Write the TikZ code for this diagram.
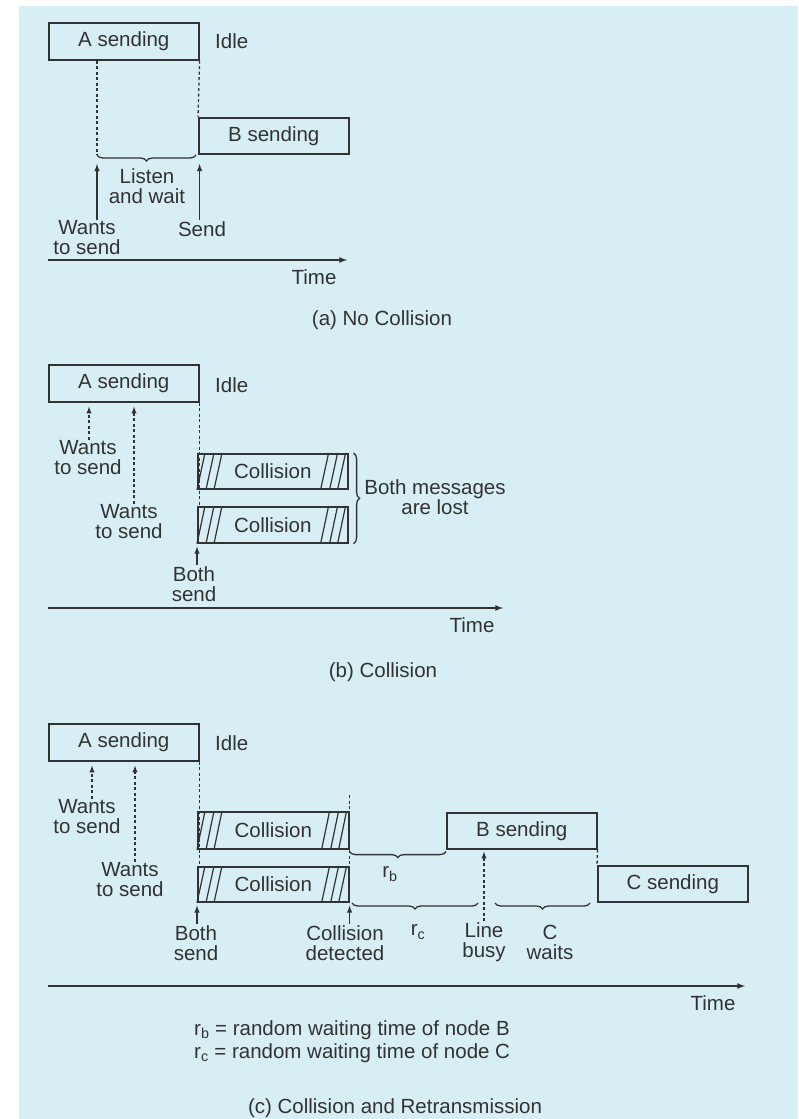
\documentclass[tikz,border=0pt]{standalone}
\usepackage{fontspec}
\setmainfont{Liberation Sans}
\usetikzlibrary{calc,decorations.pathreplacing}
\definecolor{panel}{RGB}{216,238,245}
\definecolor{ink}{RGB}{50,50,50}
\begin{document}
\begin{tikzpicture}[x=1pt,y=-1pt,
  every node/.style={font=\fontsize{20.5}{20}\selectfont,text=ink,inner sep=1pt,align=center},
  box/.style={draw=ink,line width=1.6pt,anchor=north west,minimum width=150pt,minimum height=37pt},
  dline/.style={draw=ink,line width=1.3pt,dash pattern=on 3pt off 2.5pt},
  arr/.style={draw=ink,line width=1.4pt,-latex},
  darr/.style={dline,-latex},
  brace/.style={draw=ink,line width=1.3pt,decorate,decoration={brace,amplitude=6pt}},
  hatch/.style={draw=ink,line width=1.2pt},
  axis/.style={draw=ink,line width=1.6pt,-latex}]
  \useasboundingbox (0,0) rectangle (798,1119);
  \fill[panel] (19,6) rectangle (798,1119);

  \node[box] (asend1) at (48,22) {A sending};
  \node[anchor=west] (idle1) at (214,41) {Idle};
  \node[box,minimum height=36pt] (bsend1) at (198,117) {B sending};
  \node (listen1) at (147,186) {Listen\\and wait};
  \node (want1) at (87,238) {Wants\\to send};
  \node (send1) at (202,229) {Send};
  \coordinate (wl1) at (97,155); \coordinate (wr1) at (196,155);
  \draw[dline] (asend1.south -| wl1) -- (wl1);
  \draw[dline] (asend1.south east) -- (bsend1.north west);
  \draw[brace] (wr1) -- (wl1);
  \draw[arr] (want1.north -| wl1) -- ($(wl1)+(0,9)$);
  \draw[arr] (send1.north -| asend1.east) -- ($(asend1.south east |- wr1)+(0,9)$);
  \coordinate (ta0) at (48,260); \coordinate (ta1) at (347,260);
  \draw[axis] (ta0) -- (ta1);
  \node (time1) at (314,277) {Time};
  \node (cap1) at (382,320) {(a) No Collision};

  \node[box] (asend2) at (48,364) {A sending};
  \node[anchor=west] (idle2) at (214,385) {Idle};
  \node[box,minimum height=35pt] (coll2a) at (197,453) {Collision};
  \node[box,minimum height=36pt] (coll2b) at (197,506) {Collision};
  \node (want2a) at (88,458) {Wants\\to send};
  \node (want2b) at (129,522) {Wants\\to send};
  \draw[darr] ($(want2a.north)+(1,0)$) -- ($(asend2.south west)+(41,4)$);
  \draw[darr] ($(want2b.north)+(5,0)$) -- ($(asend2.south west)+(86,4)$);
  \draw[dline] (asend2.south east) -- (asend2.south east |- coll2b.north);
  \draw[brace] ($(coll2a.north east)+(5,0)$) -- ($(coll2b.south east)+(5,0)$);
  \node (lost2) at (435,497) {Both messages\\are lost};
  \node (both2) at (194,584) {Both\\send};
  \draw[arr] (coll2b.south west |- both2.north) -- ($(coll2b.south west)+(0,3)$);
  \coordinate (tb0) at (48,608); \coordinate (tb1) at (503,608);
  \draw[axis] (tb0) -- (tb1);
  \node (time2) at (472,625) {Time};
  \node (cap2) at (383,672) {(b) Collision};

  \node[box] (asend3) at (48,723) {A sending};
  \node[anchor=west] (idle3) at (214,743) {Idle};
  \node[box,minimum width=151pt] (coll3a) at (197,811) {Collision};
  \node[box,minimum width=151pt,minimum height=35pt] (coll3b) at (197,866) {Collision};
  \node[box,minimum height=36pt] (bsend3) at (446,812) {B sending};
  \node[box,minimum height=36pt] (csend3) at (597,865) {C sending};
  \node (want3a) at (87,817) {Wants\\to send};
  \node (want3b) at (130,880) {Wants\\to send};
  \draw[darr] ($(want3a.north)+(5,0)$) -- ($(asend3.south west)+(44,4)$);
  \draw[darr] ($(want3b.north)+(5,0)$) -- ($(asend3.south west)+(87,4)$);
  \draw[dline] (asend3.south east) -- (asend3.south east |- coll3b.north);
  \draw[dline] ($(coll3a.north east)+(0,-16)$) -- (coll3b.north east);
  \draw[dline] (bsend3.south east) -- (csend3.north west);
  \draw[brace] ($(bsend3.south west)+(0,2)$) -- ($(coll3a.south east)+(0,2)$);
  \node (rb3) at (390,874) {r\textsubscript{b}};
  \coordinate (rc0) at (352,903); \coordinate (rc1) at (478,903);
  \draw[brace] (rc1) -- (rc0);
  \node (rc3) at (418,932) {r\textsubscript{c}};
  \coordinate (cw0) at (495,903); \coordinate (cw1) at (590,903);
  \draw[brace] (cw1) -- (cw0);
  \node (wait3) at (550,942) {C\\waits};
  \node (busy3) at (484,942) {Line\\busy};
  \draw[darr] (busy3.north) -- ($(bsend3.south west)+(38,2)$);
  \node (both3) at (196,943) {Both\\send};
  \draw[arr] (coll3b.south west |- both3.north) -- ($(coll3b.south west)+(0,3)$);
  \node (detect3) at (345,943) {Collision\\detected};
  \draw[arr] (coll3b.south east |- detect3.north) -- ($(coll3b.south east)+(0,3)$);
  \coordinate (tc0) at (48,986); \coordinate (tc1) at (745,986);
  \draw[axis] (tc0) -- (tc1);
  \node (time3) at (713,1003) {Time};
  \node[anchor=west] (key1) at (193,1030) {r\textsubscript{b} = random waiting time of node B};
  \node[anchor=west] (key2) at (193,1053) {r\textsubscript{c} = random waiting time of node C};
  \node (cap3) at (395,1108) {(c) Collision and Retransmission};

  \foreach \c in {coll2a,coll2b,coll3a,coll3b}{
    \foreach \d in {0,9,17}
      \draw[hatch] ($(\c.south west)+(\d,0)$) -- ($(\c.north west)+(\d+8,0)$);
    \foreach \d in {28,19,11}
      \draw[hatch] ($(\c.south east)+(-\d,0)$) -- ($(\c.north east)+(8-\d,0)$);
  }
\end{tikzpicture}
\end{document}
